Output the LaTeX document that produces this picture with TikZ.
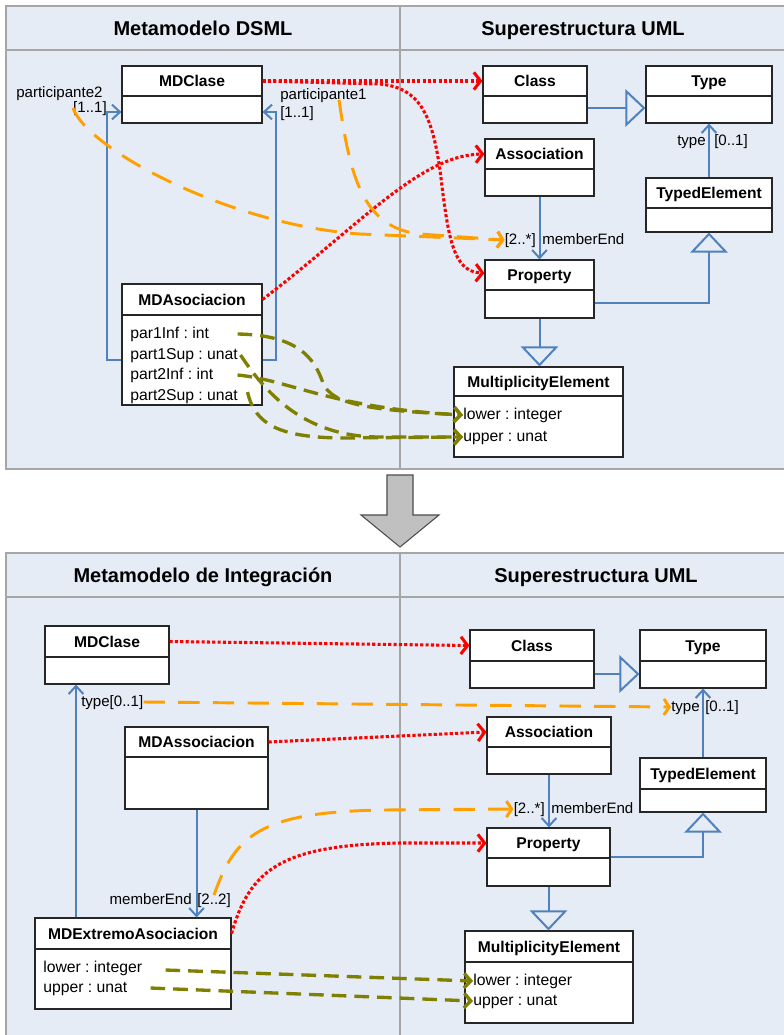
\documentclass[tikz,border=0pt]{standalone}
\usepackage{fontspec}
\setmainfont{Liberation Sans}
\usetikzlibrary{arrows.meta,fit,calc}
\frenchspacing

\definecolor{panebg}{RGB}{229,236,246}
\definecolor{paneline}{RGB}{166,166,166}
\definecolor{assocblue}{RGB}{79,129,189}
\definecolor{mapred}{RGB}{255,0,0}
\definecolor{maporange}{RGB}{255,160,0}
\definecolor{mapolive}{RGB}{128,128,0}
\definecolor{arrowgray}{RGB}{192,192,192}

\tikzset{
  pane/.style={fill=panebg, draw=paneline, line width=1.5pt},
  paneedge/.style={draw=paneline, line width=1.5pt},
  panetitle/.style={font=\fontsize{15}{18}\selectfont\bfseries, inner sep=0pt,
    text height=10.8pt, text depth=0pt},
  classbox/.style={draw=black!85, fill=white, line width=0.8pt, inner sep=0pt},
  classdiv/.style={draw=black!85, line width=0.8pt},
  classtitle/.style={font=\fontsize{11.7}{14}\selectfont\bfseries, inner sep=0pt,
    text height=8.4pt, text depth=0pt},
  attr/.style={font=\fontsize{11.8}{14}\selectfont, inner sep=0pt, anchor=west,
    text height=7pt, text depth=0pt},
  lbl/.style={font=\fontsize{11.3}{14}\selectfont, inner sep=0pt,
    text height=7pt, text depth=0pt},
  assoc/.style={draw=assocblue, line width=1.5pt,
    -{Straight Barb[length=6pt,width=11pt]}},
  gen/.style={draw=assocblue, line width=1.5pt,
    -{Triangle[open, length=15pt, width=28pt]}},
  realize/.style={draw=mapred, line width=2.3pt, dash pattern=on 2.4pt off 1.6pt,
    -{Straight Barb[length=5pt,width=13pt]}},
  mapdash/.style={draw=maporange, line width=2.2pt, dash pattern=on 16pt off 10pt,
    -{Straight Barb[length=4pt,width=12pt]}},
  attrmap/.style={draw=mapolive, line width=2.5pt, dash pattern=on 11pt off 6pt,
    -{Straight Barb[length=5pt,width=11pt]}},
  bigarrow/.style={fill=arrowgray, draw=black!70, line width=0.8pt},
}

% #1 name, #2 left, #3 top, #4 right, #5 divider, #6 bottom, #7 title
\newcommand\umlclass[7]{%
  \node[classbox, fit={(#2,#3) (#4,#6)}] (#1) {};
  \draw[classdiv] (#2,#5) -- (#4,#5);
  \node[classtitle] (#1-t) at ({(#2+#4)/2},{(#3+#5)/2}) {#7};
}

\begin{document}
\begin{tikzpicture}[x=0.75pt, y=-0.75pt]
\clip (0,0) rectangle (784,1035);
\fill[white] (0,0) rectangle (784,1035);

% ---------- upper pane ----------
\path[pane] (6,6) rectangle (792,469);
\draw[paneedge] (6,50) -- (792,50);
\draw[paneedge] (400,6) -- (400,469);
\node[panetitle] (ttl1) at (203,28) {Metamodelo DSML};
\node[panetitle] (ttl2) at (583,28) {Superestructura UML};

\umlclass{t-mdclase}{122}{66}{262}{96}{123}{MDClase}
\umlclass{t-mdasoc}{122}{284}{262}{315}{405}{MDAsociacion}
\node[attr] (t-a1) at (130,334) {par1Inf : int};
\node[attr] (t-a2) at (130,355) {part1Sup : unat};
\node[attr] (t-a3) at (130,375) {part2Inf : int};
\node[attr] (t-a4) at (130,396) {part2Sup : unat};

\umlclass{t-class}{483}{66}{587}{96}{123}{Class}
\umlclass{t-type}{646}{66}{772}{96}{123}{Type}
\umlclass{t-assoc}{485}{139}{594}{169}{196}{Association}
\umlclass{t-typed}{646}{178}{772}{208}{232}{TypedElement}
\umlclass{t-prop}{485}{260}{594}{290}{318}{Property}
\umlclass{t-mult}{454}{367}{623}{396}{457}{MultiplicityElement}
\node[attr] (t-ml) at (463,415) {lower : integer};
\node[attr] (t-mu) at (463,437) {upper : unat};

% association ends of MDAsociacion
\draw[assoc] (t-mdasoc.west |- 0,360) -| (107,236) |- (t-mdclase.west |- 0,112);
\draw[assoc] (t-mdasoc.east |- 0,360) -| (276,236) |- (t-mdclase.east |- 0,112);
\node[lbl, anchor=west] (t-p2) at (16,93) {participante2};
\node[lbl, anchor=east] (t-p2m) at (107,108) {[1..1]};
\node[lbl, anchor=west] (t-p1) at (280,95) {participante1};
\node[lbl, anchor=west] (t-p1m) at (280,113) {[1..1]};

% UML superstructure
\draw[gen] (t-class.east |- 0,108) -- (t-type.west |- 0,108);
\draw[assoc] (t-typed.north) -- (t-type.south);
\node[lbl, anchor=east] (t-tyn) at (706,141) {type};
\node[lbl, anchor=west] (t-tym) at (714,141) {[0..1]};
\draw[assoc] (t-assoc.south) -- (t-assoc.south |- t-prop.north);
\node[lbl, anchor=east] (t-mem) at (536,240) {[2..*]};
\node[lbl, anchor=west] (t-men) at (542,240) {memberEnd};
\draw[gen] (t-prop.east |- 0,303) -| (t-typed.south);
\draw[gen] (t-prop.south) -- (t-prop.south |- t-mult.north);

% mappings to the superstructure
\draw[realize] (t-mdclase.east |- t-mdclase-t) -- (t-class.west |- t-class-t);
\draw[realize] (t-mdclase.east |- t-mdclase-t) -- (380,84)
  .. controls (420,88) and (432,115) .. (440,170)
  .. controls (448,235) and (452,272) .. (t-prop.west |- 0,273);
\draw[realize] (t-mdasoc.east |- t-mdasoc-t)
  .. controls (360,225) and (420,155) .. (t-assoc.west |- 0,154);

\draw[mapdash] (t-p2m.west)
  .. controls (88,150) and (230,225) .. (360,234) -- (t-mem.west);
\draw[mapdash] ($(t-p1.south west)!0.68!(t-p1.south east)$)
  .. controls (350,175) and (362,228) .. (420,234) -- (t-mem.west);

\draw[attrmap] ($(t-mdasoc.east |- t-a1)+(-25,0)$)
  .. controls (300,335) and (315,360) .. (323,383)
  .. controls (332,405) and (370,410) .. (t-ml.west);
\draw[attrmap] ($(t-mdasoc.east |- t-a2)+(-22,0)$)
  .. controls (270,400) and (310,437) .. (380,437) -- (t-mu.west);
\draw[attrmap] ($(t-mdasoc.east |- t-a3)+(-25,0)$)
  .. controls (290,380) and (330,408) .. (t-ml.west);
\draw[attrmap] ($(t-mdasoc.east |- t-a4)+(-15,-4)$)
  .. controls (255,425) and (280,437) .. (340,438) -- (t-mu.west);

% ---------- transformation arrow ----------
\draw[bigarrow] (387,475) -- (413,475) -- (413,515) -- (439,515) -- (400,547)
  -- (361,515) -- (387,515) -- cycle;

% ---------- lower pane ----------
\path[pane] (6,553) rectangle (792,1042);
\draw[paneedge] (6,597) -- (792,597);
\draw[paneedge] (400,553) -- (400,1042);
\node[panetitle] (ttl3) at (203,575) {Metamodelo de Integración};
\node[panetitle] (ttl4) at (596,575) {Superestructura UML};

\umlclass{b-mdclase}{45}{626}{169}{657}{684}{MDClase}
\umlclass{b-mdassoc}{125}{727}{268}{757}{809}{MDAssociacion}
\umlclass{b-mdext}{35}{918}{231}{949}{1009}{MDExtremoAsociacion}
\node[attr] (b-el) at (43,968) {lower : integer};
\node[attr] (b-eu) at (43,988) {upper : unat};

\umlclass{b-class}{470}{630}{594}{661}{688}{Class}
\umlclass{b-type}{640}{630}{766}{661}{688}{Type}
\umlclass{b-assoc}{487}{717}{611}{747}{774}{Association}
\umlclass{b-typed}{640}{758}{766}{789}{812}{TypedElement}
\umlclass{b-prop}{487}{828}{610}{858}{886}{Property}
\umlclass{b-mult}{465}{931}{633}{962}{1023}{MultiplicityElement}
\node[attr] (b-ml) at (473,981) {lower : integer};
\node[attr] (b-mu) at (473,1001) {upper : unat};

% integration metamodel
\draw[assoc] (b-mdext.north -| 76,0) -- (b-mdclase.south -| 76,0);
\node[lbl, anchor=west] (b-tl) at (81,702) {type[0..1]};
\draw[assoc] (b-mdassoc.south) -- (b-mdassoc.south |- b-mdext.north);
\node[lbl, anchor=east] (b-men2) at (192,900) {memberEnd};
\node[lbl, anchor=west] (b-mm2) at (197,900) {[2..2]};

% UML superstructure
\draw[gen] (b-class.east |- 0,674) -- (b-type.west |- 0,674);
\draw[assoc] (b-typed.north) -- (b-type.south);
\node[lbl, anchor=west] (b-tyn) at (671,707) {type};
\node[lbl, anchor=west] (b-tym) at (705,707) {[0..1]};
\draw[assoc] (b-assoc.south) -- (b-assoc.south |- b-prop.north);
\node[lbl, anchor=east] (b-mem) at (545,809) {[2..*]};
\node[lbl, anchor=west] (b-men) at (551,809) {memberEnd};
\draw[gen] (b-prop.east |- 0,857) -| (b-typed.south);
\draw[gen] (b-prop.south) -- (b-prop.south |- b-mult.north);

% mappings to the superstructure
\draw[realize] (b-mdclase.east |- b-mdclase-t) -- (b-class.west |- b-class-t);
\draw[realize] (b-mdassoc.east |- b-mdassoc-t) -- (b-assoc.west |- b-assoc-t);
\draw[realize] (b-mdext.east |- b-mdext-t)
  .. controls (250,870) and (280,845) .. (400,843) -- (b-prop.west |- b-prop-t);
\draw[mapdash] (b-tl.east) -- (b-tyn.west);
\draw[mapdash] (b-mm2.north)
  .. controls (235,835) and (260,812) .. (383,810) -- (b-mem.west);
\draw[attrmap] ($(b-mdext.east |- b-el)+(-66,2)$) -- (b-ml.west);
\draw[attrmap] ($(b-mdext.east |- b-eu)+(-81,0)$) -- (b-mu.west);
\end{tikzpicture}
\end{document}
